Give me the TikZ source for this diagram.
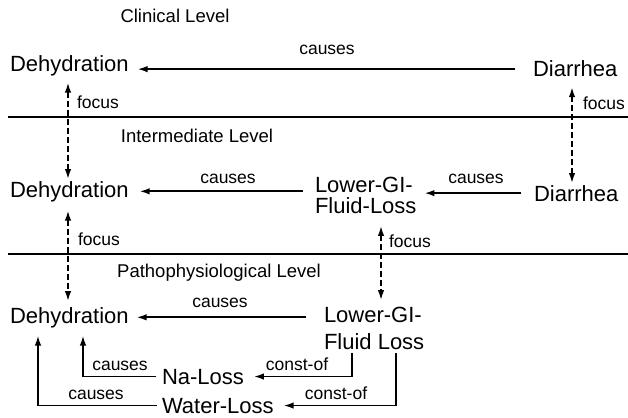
\documentclass[tikz,border=0pt]{standalone}
\usepackage{fontspec}
\setmainfont{Liberation Sans}
\usetikzlibrary{arrows.meta}
\begin{document}
\begin{tikzpicture}[x=1pt,y=-1pt,
 main/.style={font=\fontsize{22}{20}\selectfont, inner sep=0pt, outer sep=0pt, anchor=base west},
 lbl/.style={font=\fontsize{17.5}{20}\selectfont, inner sep=0pt, anchor=base},
 lvl/.style={font=\fontsize{18.5}{20}\selectfont, inner sep=0pt, anchor=base},
 rel/.style={line width=1.7pt, -{Latex[length=10pt,width=6.5pt]}},
 focusarrow/.style={line width=1.7pt, {Latex[length=10pt,width=6.5pt]}-{Latex[length=10pt,width=6.5pt]}, dash pattern=on 6pt off 3pt},
 sepline/.style={line width=1.1pt}]
\useasboundingbox (0,0) rectangle (628,417);

% level labels and separators
\node[lvl] (lvl1) at (175,23) {Clinical Level};
\node[lvl] (lvl2) at (197,142) {Intermediate Level};
\node[lvl] (lvl3) at (219,277) {Pathophysiological Level};
\coordinate (s1a) at (8,117);
\coordinate (s1b) at (628,117);
\coordinate (s2a) at (8,254);
\coordinate (s2b) at (628,254);
\draw[sepline] (s1a) -- (s1b);
\draw[sepline] (s2a) -- (s2b);

% nodes
\node[main] (deh1) at (10,72) {Dehydration};
\node[main] (diar1) at (533,77) {Diarrhea};
\node[main] (deh2) at (10,197) {Dehydration};
\node[main] (lgi2) at (315,192) {\begin{tabular}[t]{@{}l@{}}Lower-GI-\\Fluid-Loss\end{tabular}};
\node[main] (diar2) at (534,201) {Diarrhea};
\node[main] (deh3) at (10,323) {Dehydration};
\node[main, font=\fontsize{22}{27}\selectfont] (lgi3) at (324,322) {\begin{tabular}[t]{@{}l@{}}Lower-GI-\\Fluid Loss\end{tabular}};
\node[main] (naloss) at (162,384) {Na-Loss};
\node[main] (waterloss) at (162,413) {Water-Loss};

% causes arrows
\draw[rel, shorten <=18pt, shorten >=9pt] (diar1.west) -- (diar1.west -| deh1.east);
\draw[rel, shorten <=12pt, shorten >=11pt] (lgi2.west |- deh2.center) -- (deh2.east);
\draw[rel, shorten <=13pt, shorten >=8pt] (diar2.west) -- (diar2.west -| lgi2.east);
\draw[rel, shorten <=18pt, shorten >=8pt] (lgi3.west |- deh3.center) -- (deh3.east);
\draw[rel, shorten <=6pt, shorten >=8pt] (naloss.west) -| ([xshift=73pt]deh3.south west);
\draw[rel, shorten <=5pt, shorten >=8pt] (waterloss.west) -| ([xshift=28pt]deh3.south west);

% const-of arrows
\draw[rel, shorten <=-4pt, shorten >=10pt] ([xshift=28pt]lgi3.south west) |- (naloss.east);
\draw[rel, shorten <=-4pt, shorten >=10pt] ([xshift=72pt]lgi3.south west) |- (waterloss.east);

% focus arrows
\draw[focusarrow, shorten <=6pt, shorten >=2pt] ([xshift=58pt]deh1.south west) -- ([xshift=58pt]deh2.north west);
\draw[focusarrow, shorten <=10pt, shorten >=2pt] ([xshift=39pt]diar1.south west) -- ([xshift=38pt]diar2.north west);
\draw[focusarrow, shorten <=9pt, shorten >=6pt] ([xshift=58pt]deh2.south west) -- ([xshift=58pt]deh3.north west);
\draw[focusarrow, shorten <=6pt, shorten >=3pt] ([xshift=66pt]lgi2.south west) -- ([xshift=57pt]lgi3.north west);

% relation labels
\node[lbl] (c1) at (327,55) {causes};
\node[lbl] (f1) at (98,108) {focus};
\node[lbl] (f2) at (604,110) {focus};
\node[lbl] (c2) at (228,183) {causes};
\node[lbl] (c3) at (476,183) {causes};
\node[lbl] (f3) at (99,245) {focus};
\node[lbl] (f4) at (410,247) {focus};
\node[lbl] (c4) at (220,307) {causes};
\node[lbl] (co1) at (297,370) {const-of};
\node[lbl] (co2) at (336,399) {const-of};
\node[lbl] (c5) at (120,370) {causes};
\node[lbl] (c6) at (96,399) {causes};
\end{tikzpicture}
\end{document}
